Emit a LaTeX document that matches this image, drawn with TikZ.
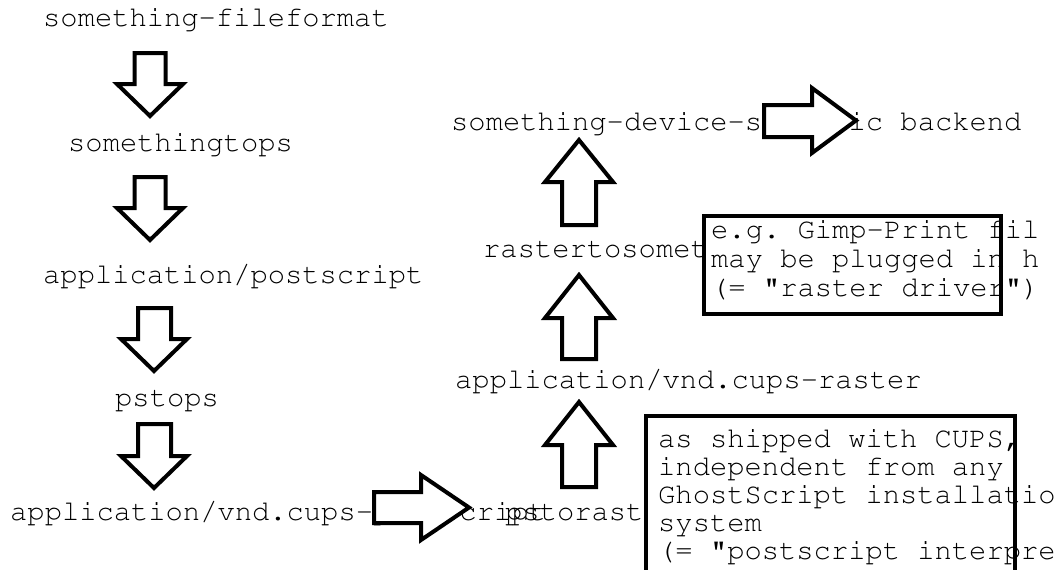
\documentclass[tikz,border=0pt]{standalone}
\usepackage[T1]{fontenc}
\usepackage{courier}
\newcommand\monotxt{\fontsize{28.8}{28.8}\selectfont\ttfamily\frenchspacing}
\begin{document}
\begin{tikzpicture}[x=1pt,y=-1pt,
  lbl/.style={anchor=base west, inner sep=0pt, font=\monotxt},
  barrow/.style={draw=black, fill=white, line width=4pt, line join=miter},
  note/.style={draw=black, fill=white, line width=4pt, inner sep=0pt, anchor=north west}]
\useasboundingbox (0,0) rectangle (1058,570);
\fill[white] (0,0) rectangle (1058,570);

% left column labels
\node[lbl] (ff)  at (43,27)  {something-fileformat};
\node[lbl] (stp) at (68,151) {somethingtops};
\node[lbl] (aps) at (43,283) {application/postscript};
\node[lbl] (pst) at (115,406) {pstops};
\node[lbl] (vps) at (10,520) {application/vnd.cups-postscript};

% right column labels
\node[lbl] (psr) at (505,520) {pstoraster};
\node[lbl] (vcr) at (455,388) {application/vnd.cups-raster};
\node[lbl] (rts) at (483,257) {rastertosomething};
\node[lbl] (dev) at (451,130) {something-device-specific backend};

% down arrows (left column)
\draw[barrow] (134.5,53) -- (165.5,53) -- (165.5,84) -- (183,84) -- (150,116) -- (117,84) -- (134.5,84) -- cycle;
\draw[barrow] (134.5,177) -- (165.5,177) -- (165.5,208) -- (183,208) -- (150,240) -- (117,208) -- (134.5,208) -- cycle;
\draw[barrow] (138,308) -- (171,308) -- (171,339) -- (187,339) -- (154,371) -- (121,339) -- (138,339) -- cycle;
\draw[barrow] (138,424) -- (171,424) -- (171,456) -- (187,456) -- (154,488) -- (121,456) -- (138,456) -- cycle;

% right arrow (bottom)
\draw[barrow] (374,492) -- (421,492) -- (421,475) -- (469,507.5) -- (421,540) -- (421,523) -- (374,523) -- cycle;

% up arrows (right column)
\draw[barrow] (562,487) -- (596,487) -- (596,445) -- (613,445) -- (579,402) -- (545,445) -- (562,445) -- cycle;
\draw[barrow] (562,359) -- (596,359) -- (596,318) -- (613,318) -- (579,275) -- (545,318) -- (562,318) -- cycle;
\draw[barrow] (562,225) -- (596,225) -- (596,182) -- (613,182) -- (579,140) -- (545,182) -- (562,182) -- cycle;

% right arrow (top)
\draw[barrow] (764,105) -- (812,105) -- (812,88) -- (856,120.5) -- (812,153) -- (812,137) -- (764,137) -- cycle;

% note boxes
\node[note, minimum width=297pt, minimum height=98pt] (n1) at (702,214) {};
\node[lbl] (n1a) at (711,238) {e.g. Gimp-Print fil};
\node[lbl] (n1b) at (711,267) {may be plugged in h};
\node[lbl] (n1c) at (711,296) {(= "raster driver")};

\node[note, minimum width=369pt, minimum height=170pt] (n2) at (644,414) {};
\node[lbl] (n2a) at (658,447) {as shipped with CUPS,};
\node[lbl] (n2b) at (658,475) {independent from any};
\node[lbl] (n2c) at (658,503) {GhostScript installatio};
\node[lbl] (n2d) at (658,531) {system};
\node[lbl] (n2e) at (658,559) {(= "postscript interpre};
\end{tikzpicture}
\end{document}
